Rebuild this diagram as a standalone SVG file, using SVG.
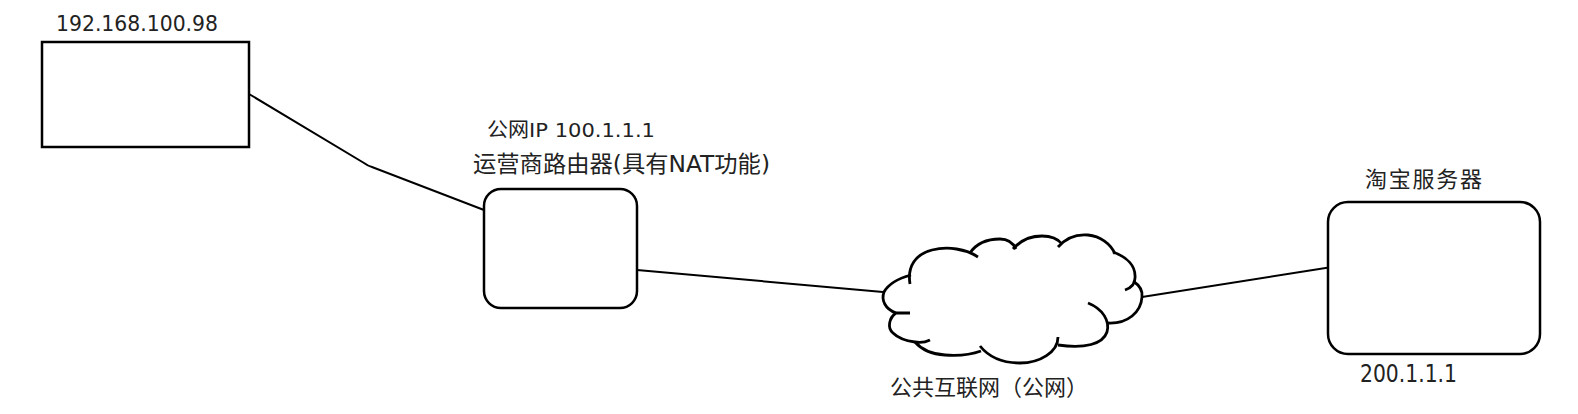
<svg xmlns="http://www.w3.org/2000/svg" width="1578" height="414" viewBox="0 0 1578 414">
<style>
.shape{fill:#fff;stroke:#000;stroke-width:2.5}
.lobe{fill:none;stroke:#000;stroke-width:2.8;stroke-linecap:butt}
.conn{fill:none;stroke:#000;stroke-width:2}
.t{font-family:"DejaVu Sans","Noto Sans CJK SC",sans-serif;fill:#222}
.c{font-family:"Noto Sans CJK SC",sans-serif;fill:#222}
</style>
<rect width="1578" height="414" fill="#fff"/>
<g id="connectors">
<path class="conn" d="M249 94 L364 163 Q368 166 372 167 L484 210"/>
<path class="conn" d="M637 270 L883 292"/>
<path class="conn" d="M1142 297 L1332 267"/>
</g>
<g id="pc">
<rect class="shape" x="42" y="42" width="207" height="105"/>
<text class="t" x="56" y="31" font-size="22" textLength="162" lengthAdjust="spacingAndGlyphs">192.168.100.98</text>
</g>
<g id="router">
<rect class="shape" x="484" y="189" width="153" height="119" rx="17" ry="17"/>
<text class="t" x="487" y="137" font-size="20" textLength="168" lengthAdjust="spacingAndGlyphs">公网IP 100.1.1.1</text>
<text class="t" x="473" y="172" font-size="23" textLength="297" lengthAdjust="spacingAndGlyphs">运营商路由器(具有NAT功能)</text>
</g>
<g id="cloud">
<path d="M910 282 C906 262 925 249 948 248 C962 248 972 252 978 257 L1000 239 L1015 248 L1040 235 L1060 245 L1085 235 L1114 253 L1136 275 L1142 297 L1125 322 L1107 332 L1090 347 L1058 345 L1050 357 L1020 364 L990 356 L980 350 L955 356 L933 353 L915 342 L893 332 L895 313 L882 296 Z" fill="#fff" stroke="none"/>
<path class="lobe" d="M911 275 C900 278 889 283 884 292 C881 300 885 309 896 313"/>
<path class="lobe" d="M910 313 L896 313 C889 318 887 328 893 333 C899 339 907 341 915 342 C921 343 926 342 930 340"/>
<path class="lobe" d="M915 342 C921 349 930 354 945 355 C958 356 970 355 981 351"/>
<path class="lobe" d="M980 346 C988 356 1000 363 1020 363 C1040 363 1058 352 1058 337"/>
<path class="lobe" d="M1088 303 C1103 309 1110 321 1107 332 C1103 344 1085 349 1058 345"/>
<path class="lobe" d="M1108 323 C1128 324 1141 312 1142 297 C1143 290 1139 285 1133 281"/>
<path class="lobe" d="M1113 252 C1127 257 1136 266 1135 278 C1135 284 1131 288 1125 290"/>
<path class="lobe" d="M1058 247 C1066 238 1077 234 1088 235 C1100 236 1111 244 1115 254"/>
<path class="lobe" d="M1013 249 C1020 241 1030 236 1042 236 C1052 236 1058 239 1062 244"/>
<path class="lobe" d="M970 253 C976 244 986 239 1000 239 C1008 239 1013 243 1016 249"/>
<path class="lobe" d="M910 284 C907 266 916 254 932 250 C948 246 966 249 978 257"/>
<text class="c" x="890" y="395" font-size="22" textLength="198" lengthAdjust="spacingAndGlyphs">公共互联网（公网）</text>
</g>
<g id="server">
<rect class="shape" x="1328" y="202" width="212" height="152" rx="20" ry="20"/>
<text class="t" x="1365" y="187" font-size="22" textLength="117" lengthAdjust="spacing">淘宝服务器</text>
<text class="t" x="1360" y="382" font-size="24" textLength="97" lengthAdjust="spacingAndGlyphs">200.1.1.1</text>
</g>
</svg>
